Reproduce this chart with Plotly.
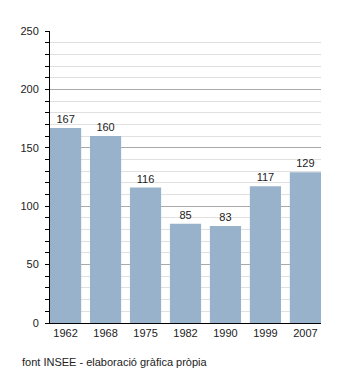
import plotly.graph_objects as go

years = ["1962", "1968", "1975", "1982", "1990", "1999", "2007"]
population = [167, 160, 116, 85, 83, 117, 129]
y_ticks = [0, 50, 100, 150, 200, 250]

gap = 0.22

fig = go.Figure(go.Bar(
    x=years, y=population,
    marker=dict(color="#98b2cc", line=dict(width=0)),
    text=[str(v) for v in population], textposition="outside",
    textfont=dict(size=11, color="#222", family="Liberation Sans, Arial"),
    cliponaxis=False,
))

fig.update_layout(
    width=350, height=373,
    margin=dict(l=50, r=29, t=31, b=50),
    paper_bgcolor="white", plot_bgcolor="white",
    font=dict(family="Liberation Sans, Arial", size=11, color="#222"),
    bargap=gap,
    showlegend=False,
    xaxis=dict(type="category", showline=True, linecolor="black", linewidth=1,
               range=[-0.5 + gap / 2, len(years) - 0.5 - gap / 2],
               ticks="", showgrid=False, tickfont=dict(size=11)),
    yaxis=dict(range=[0, 250], tickvals=y_ticks, showline=True, linecolor="black",
               linewidth=1, ticks="outside", ticklen=4, tickcolor="black",
               ticklabelstandoff=4,
               gridcolor="#aaaaaa", gridwidth=1, zeroline=False,
               tickfont=dict(size=11),
               minor=dict(dtick=10, showgrid=True, gridcolor="#e0e0e0", gridwidth=1,
                          ticks="outside", ticklen=4, tickcolor="black")),
    annotations=[dict(text="font INSEE - elaboració gràfica pròpia",
                      xref="paper", yref="paper", x=-30 / 271, y=-(362 - 323) / 292,
                      xanchor="left", yanchor="middle", showarrow=False)],
)
fig.write_html("out.html")
